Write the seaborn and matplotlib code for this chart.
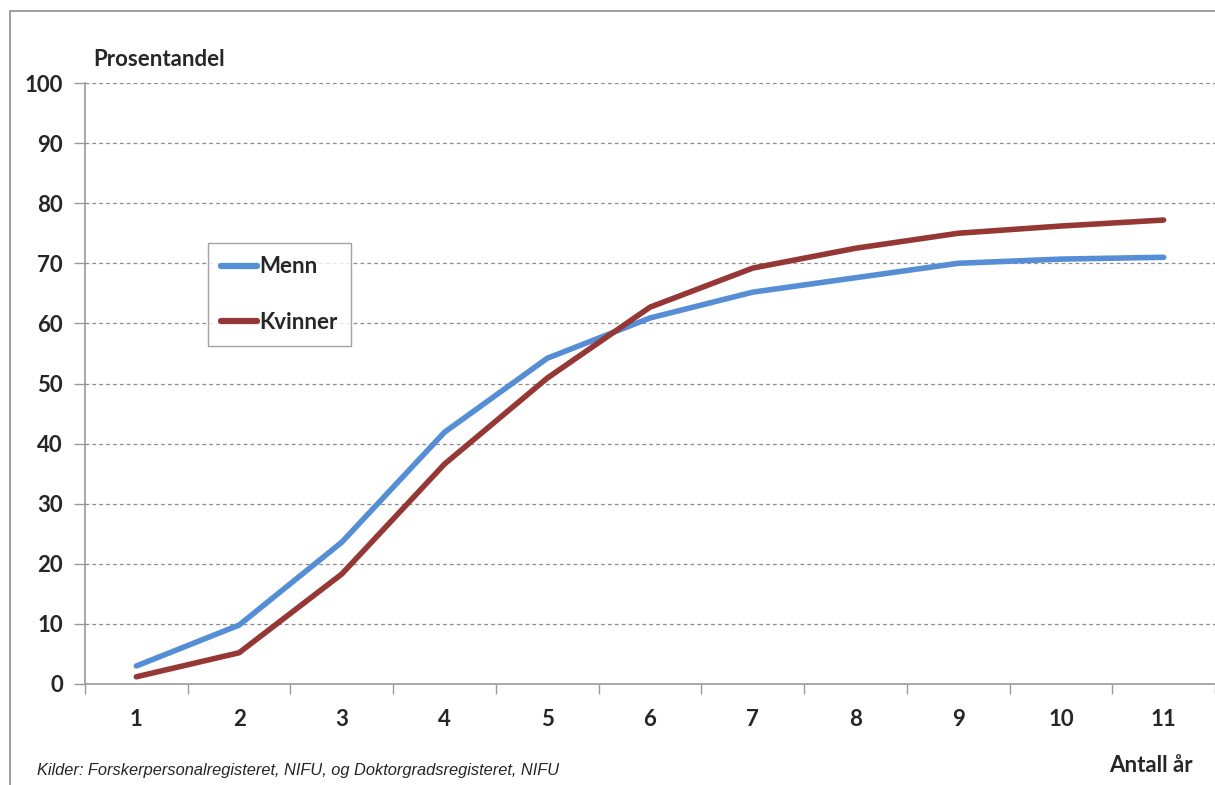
import numpy as np
import pandas as pd
import matplotlib

matplotlib.use("Agg")
import matplotlib.pyplot as plt
import seaborn as sns
from matplotlib.patches import Rectangle

YEARS = [1, 2, 3, 4, 5, 6, 7, 8, 9, 10, 11]
MENN = [3.0, 9.8, 23.6, 41.9, 54.2, 60.9, 65.2, 67.6, 70.0, 70.7, 71.0]
KVINNER = [1.2, 5.2, 18.3, 36.6, 50.9, 62.7, 69.2, 72.5, 75.0, 76.2, 77.2]
SERIES = ["Menn", "Kvinner"]
COLORS = {"Menn": "#558ed5", "Kvinner": "#953735"}

FS = 16

sns.set_theme(style="white")
plt.rcParams["font.family"] = ["Lato", "DejaVu Sans"]

df = pd.DataFrame(
    {
        "år": YEARS * 2,
        "andel": MENN + KVINNER,
        "kjønn": ["Menn"] * len(YEARS) + ["Kvinner"] * len(YEARS),
    }
)

fig = plt.figure(figsize=(12.15, 7.85), dpi=100)
ax = fig.add_axes([85 / 1215, 1 - 684 / 785, 1 - 85 / 1215, (684 - 83) / 785])

# outer chart border like the spreadsheet frame
fig.patches.append(
    Rectangle((10 / 1215, -0.1), 1.2, 1 - 11 / 785 + 0.1, transform=fig.transFigure,
              fill=False, edgecolor="#8c8c8c", lw=1.2, zorder=0)
)

sns.lineplot(
    data=df, x="år", y="andel", hue="kjønn", hue_order=SERIES,
    palette=COLORS, lw=4, ax=ax, legend=False,
)

ax.set_xlim(0.5, 11.47)
ax.set_ylim(0, 100)
ax.set_yticks(np.arange(0, 101, 10))
ax.set_xticks(YEARS)
ax.set_xticks(np.arange(0.5, 11.6, 1), minor=True)
ax.set_xlabel("")
ax.set_ylabel("")

for y in range(10, 101, 10):
    ax.axhline(y, color="#8c8c8c", lw=0.9, ls=(0, (3, 2.5)), zorder=0)

for s in ("top", "right"):
    ax.spines[s].set_visible(False)
for s in ("left", "bottom"):
    ax.spines[s].set_color("#9a9a9a")
    ax.spines[s].set_linewidth(1.2)

ax.tick_params(axis="y", which="major", length=8, width=1, color="#9a9a9a",
               direction="out", left=True, labelsize=FS, pad=8)
ax.tick_params(axis="x", which="major", length=0, labelsize=FS, pad=18)
ax.tick_params(axis="x", which="minor", length=7, width=1, color="#9a9a9a",
               direction="out", bottom=True)
for lab in ax.get_xticklabels() + ax.get_yticklabels():
    lab.set_fontweight("bold")

fig.text(93 / 1215, 1 - 60 / 785, "Prosentandel", fontsize=FS, fontweight="bold",
         va="center", ha="left")
fig.text(1193 / 1215, 1 - 766 / 785, "Antall år", fontsize=FS, fontweight="bold",
         va="center", ha="right")
fig.text(37 / 1215, 1 - 770 / 785,
         "Kilder: Forskerpersonalregisteret, NIFU, og Doktorgradsregisteret, NIFU",
         fontsize=11.8, style="italic", family=["Liberation Sans", "DejaVu Sans"],
         va="center", ha="left")

# legend box
handles = [plt.Line2D([], [], color=COLORS[s], lw=4.5) for s in SERIES]
leg = ax.legend(
    handles, SERIES, loc="upper left",
    bbox_to_anchor=((208 - 85) / (1215 - 85), (684 - 243) / (684 - 83)),
    borderaxespad=0, frameon=True, fancybox=False, edgecolor="#8c8c8c",
    handlelength=1.6, handletextpad=0.1, labelspacing=1.55, borderpad=0.6,
    prop={"weight": "bold", "size": FS},
)
leg.get_frame().set_linewidth(1)

fig.savefig("out.png", dpi=100, facecolor="white")
